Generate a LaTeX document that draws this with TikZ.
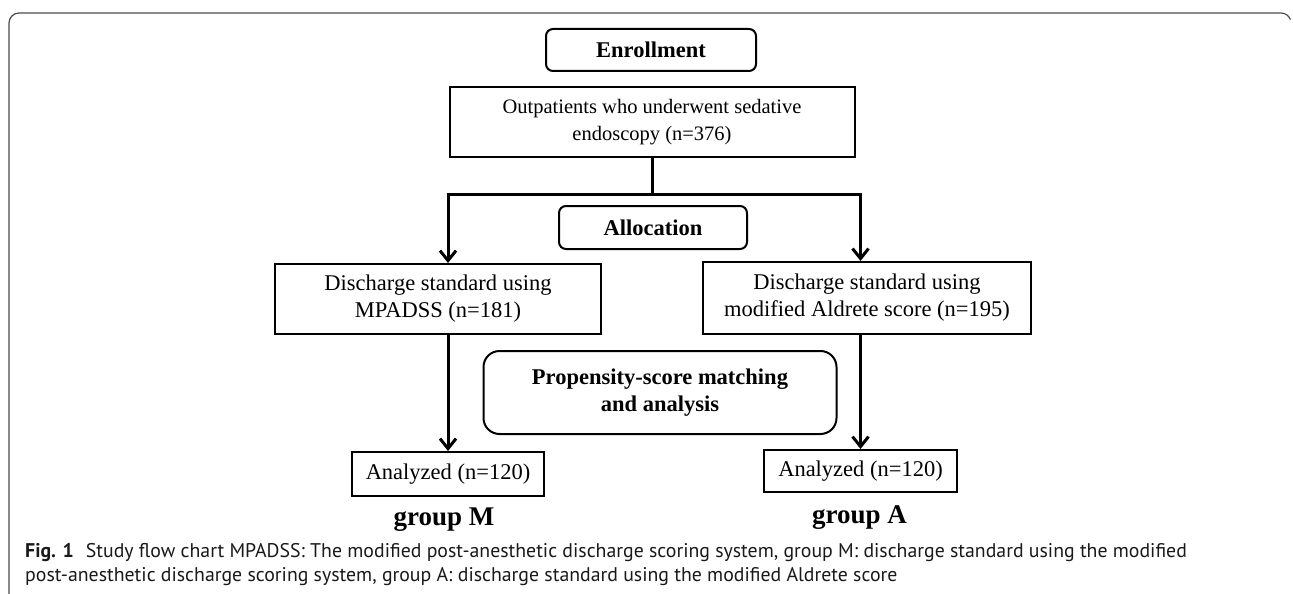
\documentclass[tikz,border=0pt]{standalone}
\usepackage{fontspec}
\setmainfont{Liberation Serif}
\newfontfamily\capfont{PT Sans}
\usetikzlibrary{arrows.meta}
\tikzset{
  box/.style={draw, line width=2pt, align=center, inner sep=0pt,
    font=\fontsize{22.5}{27}\selectfont},
  roundbox/.style={box, rounded corners=7pt},
  flow/.style={line width=3pt},
  flowarrow/.style={flow, -{Straight Barb[length=10pt,width=16pt]}},
  grouplabel/.style={font=\fontsize{27}{32}\selectfont\bfseries},
  captext/.style={anchor=base west, inner sep=0pt, text=black!90,
    font=\capfont\fontsize{19.8}{24}\selectfont}
}
\begin{document}
\begin{tikzpicture}[x=1pt, y=1pt]
        \useasboundingbox (0,0) rectangle (1293,-594);
        \draw [line width=1.2pt, black!70] (9,-594) -- (9,-23) arc [start angle=180, end angle=90, radius=10] -- (1281,-13) arc [start angle=90, end angle=20, radius=10];
        \node[roundbox, minimum width=210pt, minimum height=42pt, font=\fontsize{22.5}{27}\selectfont\bfseries] (enroll) at (651,-50) {Enrollment};
        \node[box, minimum width=405pt, minimum height=70pt, font=\fontsize{20.5}{27}\selectfont] (outpat) at (652,-122) {Outpatients who underwent sedative\\endoscopy (n=376)};
        \node[roundbox, minimum width=188pt, minimum height=43pt, font=\fontsize{22.5}{27}\selectfont\bfseries] (alloc) at (653,-227.5) {Allocation};
        \node[box, minimum width=326pt, minimum height=70pt] (dischM) at (438,-299) {Discharge standard using\\MPADSS (n=181)};
        \node[box, minimum width=328pt, minimum height=72pt] (dischA) at (867,-298) {Discharge standard using\\modified Aldrete score (n=195)};
        \node[roundbox, rounded corners=16pt, minimum width=353pt, minimum height=83pt, font=\fontsize{22.5}{27}\selectfont\bfseries] (psm) at (660,-392.5) {Propensity-score matching\\and analysis};
        \node[box, minimum width=192pt, minimum height=44pt] (anaM) at (448,-474) {Analyzed (n=120)};
        \node[box, minimum width=193pt, minimum height=42pt] (anaA) at (860.5,-471) {Analyzed (n=120)};
        \node[grouplabel] (grpM) at (444,-520) {group M};
        \node[grouplabel] (grpA) at (859.5,-518) {group A};
        \coordinate (split) at ([yshift=-36pt]outpat.south);
        \draw[flow] (outpat.south) -- (split);
        \draw[flowarrow] (split) -| (dischM.north -| anaM.north);
        \draw[flowarrow] (split) -| (dischA.north -| anaA.north);
        \draw[flowarrow] (dischM.south -| anaM.north) -- (anaM.north);
        \draw[flowarrow] (dischA.south -| anaA.north) -- (anaA.north);
        \node[captext] (cap1) at (25,-557) {\textbf{Fig. 1}\hspace{0.6em}Study flow chart MPADSS: The modified post-anesthetic discharge scoring system, group M: discharge standard using the modified};
        \node[captext] (cap2) at (25,-581) {post-anesthetic discharge scoring system, group A: discharge standard using the modified Aldrete score};
    \end{tikzpicture}
\end{document}
